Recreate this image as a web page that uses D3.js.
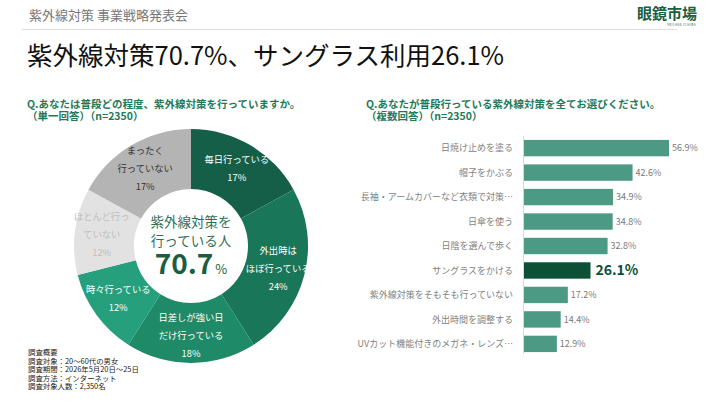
<!DOCTYPE html>
<html>
<head>
<meta charset="utf-8">
<script src="https://cdn.jsdelivr.net/npm/d3@7"></script>
<style>
  body { margin: 0; background: #fff; }
  svg { font-family: "Noto Sans CJK JP", "Noto Sans", sans-serif; }
</style>
</head>
<body>
<div id="chart"></div>
<script>
// donut data (single answer)
const freqLabels = [["毎日行っている"], ["外出時は", "ほぼ行っている"], ["日差しが強い日", "だけ行っている"],
  ["時々行っている"], ["ほとんど行っ", "ていない"], ["まったく", "行っていない"]];
const freqValues = [17, 24, 18, 12, 12, 17];
const freqColors = ["#155f48", "#1a7658", "#1f8a67", "#26a07c", "#e2e2e2", "#b4b4b4"];
const freqTextColors = ["#fff", "#fff", "#fff", "#fff", "#bdbdbd", "#333"];

// bar data (multiple answers)
const measures = ["日焼け止めを塗る", "帽子をかぶる", "長袖・アームカバーなど衣類で対策…", "日傘を使う",
  "日陰を選んで歩く", "サングラスをかける", "紫外線対策をそもそも行っていない", "外出時間を調整する",
  "UVカット機能付きのメガネ・レンズ…"];
const measureValues = [56.9, 42.6, 34.9, 34.8, 32.8, 26.1, 17.2, 14.4, 12.9];
const highlight = "サングラスをかける";

const notes = ["調査概要", "調査対象：20～60代の男女", "調査期間：2026年5月20日～25日",
  "調査方法：インターネット", "調査対象人数：2,350名"];

const W = 720, H = 406;
const svg = d3.select("#chart").append("svg").attr("width", W).attr("height", H);

// header
svg.append("text").attr("x", 29).attr("y", 20).attr("font-size", 13).attr("fill", "#777")
  .text("紫外線対策 事業戦略発表会");
svg.append("line").attr("x1", 22).attr("x2", 677).attr("y1", 29.5).attr("y2", 29.5)
  .attr("stroke", "#dedede");
svg.append("text").attr("x", 697).attr("y", 19).attr("text-anchor", "end").attr("font-size", 15)
  .attr("font-weight", "bold").attr("fill", "#1b5e40").text("眼鏡市場");
svg.append("text").attr("x", 696).attr("y", 26).attr("text-anchor", "end").attr("font-size", 3)
  .attr("fill", "#1b5e40").attr("letter-spacing", 0.5).text("MEGANE ICHIBA");

svg.append("text").attr("x", 27).attr("y", 65).attr("font-size", 25.5).attr("fill", "#111")
  .text("紫外線対策70.7%、サングラス利用26.1%");

// questions
const qColor = "#1f7a58";
function question(x, lines) {
  lines.forEach((t, i) => svg.append("text").attr("x", x).attr("y", 107.5 + i * 12.5)
    .attr("font-size", 10.5).attr("font-weight", "bold").attr("fill", qColor).text(t));
}
question(27, ["Q.あなたは普段どの程度、紫外線対策を行っていますか。", "（単一回答）（n=2350）"]);
question(366, ["Q.あなたが普段行っている紫外線対策を全てお選びください。", "（複数回答）（n=2350）"]);

// donut
const cx = 191, cy = 246;
const pie = d3.pie().sort(null).value(d => d)(freqValues);
const arc = d3.arc().innerRadius(57).outerRadius(117);
const labelArc = d3.arc().innerRadius(60).outerRadius(120);
const donut = svg.append("g").attr("transform", `translate(${cx},${cy})`);
donut.selectAll("path").data(pie).join("path")
  .attr("d", arc).attr("fill", (d, i) => freqColors[i]);

donut.selectAll("g.lbl").data(pie).join("g").attr("class", "lbl")
  .each(function(d, i) {
    const [x, y] = labelArc.centroid(d);
    const lines = freqLabels[i].concat([freqValues[i] + "%"]);
    const g = d3.select(this);
    lines.forEach((t, j) => g.append("text")
      .attr("x", x).attr("y", y + (j - (lines.length - 1) / 2) * 18)
      .attr("dy", "0.35em").attr("text-anchor", "middle")
      .attr("font-size", 9.3).attr("fill", freqTextColors[i]).text(t));
  });

donut.append("text").attr("x", 0).attr("y", -19).attr("text-anchor", "middle")
  .attr("font-size", 13.5).attr("fill", "#2f6e57").text("紫外線対策を");
donut.append("text").attr("x", 0).attr("y", 0).attr("text-anchor", "middle")
  .attr("font-size", 13.5).attr("fill", "#2f6e57").text("行っている人");
const big = donut.append("text").attr("x", 0).attr("y", 28).attr("text-anchor", "middle")
  .attr("fill", "#1b5e44");
big.append("tspan").attr("font-size", 28).attr("font-weight", "bold").text("70.7");
big.append("tspan").attr("font-size", 13).attr("dx", 2).text("%");

// notes
notes.forEach((t, i) => svg.append("text").attr("x", 28).attr("y", 355 + i * 8.6)
  .attr("font-size", 7.4).attr("fill", "#222").text(t));

// bars
const x0 = 523;
const x = d3.scaleLinear().domain([0, 56.9]).range([0, 145]);
const y = d3.scaleBand().domain(measures).range([136, 356]).paddingInner(0.33).paddingOuter(0.16);

svg.append("line").attr("x1", x0 + 0.5).attr("x2", x0 + 0.5).attr("y1", 136).attr("y2", 354)
  .attr("stroke", "#d9d9d9");

const rows = svg.selectAll("g.row").data(measures).join("g").attr("class", "row")
  .attr("transform", d => `translate(0,${y(d)})`);
rows.append("rect").attr("x", x0 + 1).attr("y", 0)
  .attr("width", (d, i) => x(measureValues[i])).attr("height", y.bandwidth())
  .attr("fill", d => d === highlight ? "#0c5137" : "#4c9a83");
rows.append("text").attr("x", 513).attr("y", y.bandwidth() / 2).attr("dy", "0.35em")
  .attr("text-anchor", "end").attr("font-size", 9).attr("fill", "#7f7f7f").text(d => d);
rows.append("text").attr("x", (d, i) => x0 + 1 + x(measureValues[i]) + (d === highlight ? 5 : 3))
  .attr("y", y.bandwidth() / 2).attr("dy", "0.35em")
  .attr("font-size", d => d === highlight ? 14 : 9)
  .attr("font-weight", d => d === highlight ? "bold" : "normal")
  .attr("fill", d => d === highlight ? "#0c5137" : "#7a7a7a")
  .text((d, i) => measureValues[i].toFixed(1) + "%");
</script>
</body>
</html>
